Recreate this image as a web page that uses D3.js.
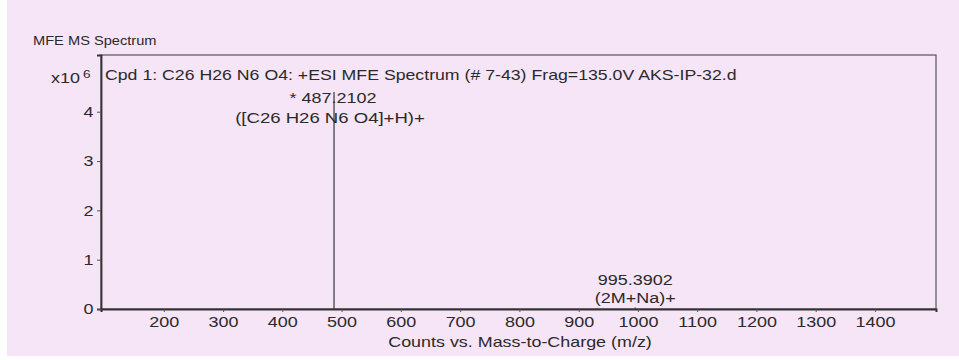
<!DOCTYPE html>
<html>
<head>
<meta charset="utf-8">
<script src="https://cdn.jsdelivr.net/npm/d3@7/dist/d3.min.js"></script>
<style>
  html, body { margin: 0; padding: 0; background: #ffffff; }
  svg { display: block; }
  text { font-family: "Liberation Sans", Arial, sans-serif; fill: #2a2a2a; }
</style>
</head>
<body>
<svg id="chart" width="959" height="360"></svg>
<script>
// Peaks of the MFE MS spectrum (m/z, counts)
const peakMz = [487.2102, 995.3902];
const peakCounts = [4.4e6, 0.03e6];
const peakLabels = [["* 487.2102", "([C26 H26 N6 O4]+H)+"], ["995.3902", "(2M+Na)+"]];

const xTicks = [200, 300, 400, 500, 600, 700, 800, 900, 1000, 1100, 1200, 1300, 1400];
const yTicks = [0, 1, 2, 3, 4];

const chartTitle = "MFE MS Spectrum";
const spectrumTitle = "Cpd 1: C26 H26 N6 O4: +ESI MFE Spectrum (# 7-43) Frag=135.0V AKS-IP-32.d";
const xTitle = "Counts vs. Mass-to-Charge (m/z)";

const FONT = 14.5;   // base label size
const STRETCH = 1.24; // instrument printout uses a wide sans face

const svg = d3.select("#chart");

// wide text helper: places text at (x, y) and stretches it horizontally
function wideText(parent, x, y, str, opts = {}) {
  const g = parent.append("g")
    .attr("transform", `translate(${x},${y}) scale(${opts.sx || STRETCH},1)`);
  return g.append("text")
    .attr("text-anchor", opts.anchor || "start")
    .style("font-size", (opts.size || FONT) + "px")
    .text(str);
}

// paper background
svg.append("rect").attr("x", 7).attr("y", 0).attr("width", 952).attr("height", 356)
  .attr("fill", "#f6e5f6");

const plot = { left: 101, top: 55, right: 936, bottom: 309 };

const x = d3.scaleLinear().domain([94, 1503]).range([plot.left, plot.right]);
const y = d3.scaleLinear().domain([0, 5.15e6]).range([plot.bottom, plot.top]);

// frame
svg.append("rect")
  .attr("x", plot.left).attr("y", plot.top)
  .attr("width", plot.right - plot.left).attr("height", plot.bottom - plot.top)
  .attr("fill", "none").attr("stroke", "#555").attr("stroke-width", 1.2);

// x axis
const xAxis = svg.append("g").attr("transform", `translate(0,${plot.bottom})`)
  .call(d3.axisBottom(x).tickValues(xTicks).tickSize(3).tickPadding(5).tickFormat(d3.format("d")));
xAxis.select(".domain").attr("stroke", "#333").attr("stroke-width", 2);
xAxis.selectAll(".tick line").attr("stroke", "#555");
xAxis.selectAll("text").style("font-size", FONT + "px").attr("fill", "#333")
  .attr("transform", `scale(${STRETCH},1)`);

// y axis (in units of 10^6)
const yAxis = svg.append("g").attr("transform", `translate(${plot.left},0)`)
  .call(d3.axisLeft(y).tickValues(yTicks.map(v => v * 1e6)).tickSize(4).tickPadding(3)
    .tickFormat(d => d3.format("d")(d / 1e6)));
yAxis.select(".domain").attr("stroke", "#333").attr("stroke-width", 1.8);
yAxis.selectAll(".tick line").attr("stroke", "#555");
yAxis.selectAll("text").style("font-size", FONT + "px").attr("fill", "#333")
  .attr("transform", `scale(${STRETCH},1)`).attr("x", -6);

// exponent label
wideText(svg, 80, 83, "x10", { anchor: "end" });
wideText(svg, 83, 78, "6", { size: 11 });

// spectrum sticks
svg.append("g").selectAll("line").data(peakMz).join("line")
  .attr("x1", d => x(d)).attr("x2", d => x(d))
  .attr("y1", y(0)).attr("y2", (d, i) => y(peakCounts[i]))
  .attr("stroke", "#444").attr("stroke-width", 1.3);

// peak annotations: base peak labelled below its tip, minor peak above it
const ann = svg.append("g");
peakMz.forEach((m, i) => {
  const top = y(peakCounts[i]);
  const lines = peakLabels[i];
  lines.forEach((t, j) => {
    const yy = i === 0 ? top + 11 + j * 20 : top - 23 + j * 18;
    const dx = i === 0 && j === 0 ? -1 : (i === 0 ? -4 : 0);
    wideText(ann, x(m) + dx, yy, t, { anchor: "middle", sx: i === 0 && j === 1 ? 1.28 : STRETCH });
  });
});

// titles
wideText(svg, 33, 45, chartTitle, { size: 12, sx: 1.22 });
wideText(svg, 105, 80, spectrumTitle, { size: 14, sx: 1.265 });
wideText(svg, 520, 347, xTitle, { anchor: "middle", size: 14, sx: 1.28 });
</script>
</body>
</html>
